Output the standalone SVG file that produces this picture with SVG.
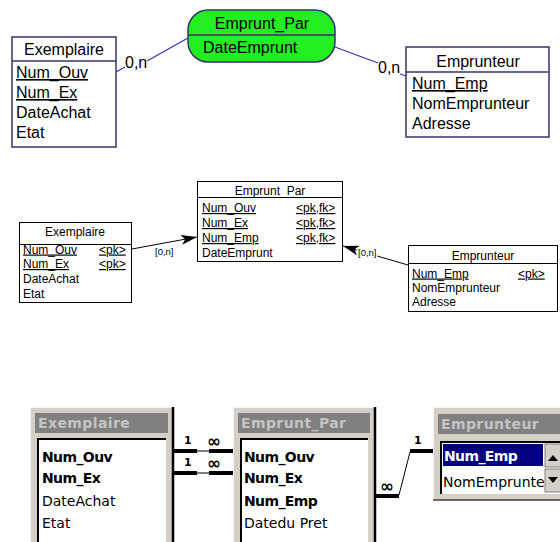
<svg xmlns="http://www.w3.org/2000/svg" width="560" height="542" viewBox="0 0 560 542">
<defs>
<style>
.mcd{font-family:"Liberation Sans",Arial,sans-serif;font-size:16px;fill:#000}
.ent{fill:#fff;stroke:#33336b;stroke-width:1.5}
.mcdl{stroke:#3333aa;stroke-width:1.2;fill:none}
.pdm{font-family:"Liberation Sans",Arial,sans-serif;font-size:12px;fill:#000}
.tbl{fill:#fff;stroke:#000;stroke-width:1}
.card{font-family:"Liberation Sans",Arial,sans-serif;font-size:9.5px;fill:#000}
.u{text-decoration:underline}
.acc{font-family:"DejaVu Sans",Tahoma,sans-serif;font-size:14px;fill:#000}
.accb{font-family:"DejaVu Sans",Tahoma,sans-serif;font-size:14px;font-weight:bold;fill:#000;letter-spacing:-0.6px}
.acct{font-family:"DejaVu Sans",Tahoma,sans-serif;font-size:14px;font-weight:bold;fill:#c4c4c4;letter-spacing:0.4px}
.frame{fill:#d4d0c8}
.tbar{fill:#808080}
.rel{font-family:"DejaVu Sans",sans-serif;font-weight:bold;fill:#000}
</style>
<marker id="arr" viewBox="0 0 16 10" refX="16" refY="5" markerWidth="16" markerHeight="10" markerUnits="userSpaceOnUse" orient="auto">
<path d="M0,0 L16,5 L0,10 L4,5 Z" fill="#000"/>
</marker>
</defs>

<!-- ===== Top: MCD ===== -->
<g id="connectors-mcd">
<polyline class="mcdl" points="116,72 125,67"/>
<polyline class="mcdl" points="147,61 188,38"/>
<polyline class="mcdl" points="335,47 378,63"/>
<polyline class="mcdl" points="400,74 406,76"/>
<text class="mcd" x="125" y="68">0,n</text>
<text class="mcd" x="378" y="73">0,n</text>
</g>

<g id="mcd-exemplaire">
<rect class="ent" x="12" y="37" width="104" height="110"/>
<line x1="12" y1="61" x2="116" y2="61" stroke="#33336b" stroke-width="1.5"/>
<text class="mcd" x="64" y="55" text-anchor="middle">Exemplaire</text>
<text class="mcd u" x="16" y="78">Num_Ouv</text>
<text class="mcd u" x="16" y="98">Num_Ex</text>
<text class="mcd" x="16" y="118">DateAchat</text>
<text class="mcd" x="16" y="138">Etat</text>
</g>

<g id="mcd-emprunt-par">
<rect x="188" y="10" width="147" height="52" rx="20" ry="20" fill="#22ee22" stroke="#33336b" stroke-width="1.5"/>
<line x1="188" y1="35" x2="335" y2="35" stroke="#33336b" stroke-width="1.5"/>
<text class="mcd" x="262" y="29" text-anchor="middle">Emprunt_Par</text>
<text class="mcd" x="203" y="53">DateEmprunt</text>
</g>

<g id="mcd-emprunteur">
<rect class="ent" x="406" y="47" width="143" height="90"/>
<line x1="406" y1="72" x2="549" y2="72" stroke="#33336b" stroke-width="1.5"/>
<text class="mcd" x="478" y="67" text-anchor="middle">Emprunteur</text>
<text class="mcd u" x="412" y="89">Num_Emp</text>
<text class="mcd" x="412" y="109">NomEmprunteur</text>
<text class="mcd" x="412" y="129">Adresse</text>
</g>

<!-- ===== Middle: PDM ===== -->
<g id="connectors-pdm">
<line x1="132" y1="249" x2="197" y2="237" stroke="#000" stroke-width="1" marker-end="url(#arr)"/>
<text class="card" x="155" y="255">[0,n]</text>
<line x1="408" y1="265" x2="343" y2="246" stroke="#000" stroke-width="1" marker-end="url(#arr)"/>
<text class="card" x="358" y="256" stroke="#fff" stroke-width="3" paint-order="stroke">[0,n]</text>
</g>

<g id="pdm-exemplaire">
<rect class="tbl" x="19.5" y="222.5" width="112" height="80"/>
<line x1="19.5" y1="244.5" x2="131.5" y2="244.5" stroke="#000"/>
<text class="pdm" x="75" y="235.5" text-anchor="middle">Exemplaire</text>
<text class="pdm u" x="23" y="253.5">Num_Ouv</text>
<text class="pdm u" x="99" y="253.5">&lt;pk&gt;</text>
<text class="pdm u" x="23" y="268">Num_Ex</text>
<text class="pdm u" x="99" y="268">&lt;pk&gt;</text>
<text class="pdm" x="23" y="282.5">DateAchat</text>
<text class="pdm" x="23" y="297.5">Etat</text>
</g>

<g id="pdm-emprunt-par">
<rect class="tbl" x="197.5" y="181.5" width="145" height="80"/>
<line x1="197.5" y1="197.5" x2="342.5" y2="197.5" stroke="#000"/>
<text class="pdm" x="270" y="194.5" text-anchor="middle">Emprunt_Par</text>
<text class="pdm u" x="202" y="212">Num_Ouv</text>
<text class="pdm u" x="296" y="212">&lt;pk,fk&gt;</text>
<text class="pdm u" x="202" y="227">Num_Ex</text>
<text class="pdm u" x="296" y="227">&lt;pk,fk&gt;</text>
<text class="pdm u" x="202" y="242">Num_Emp</text>
<text class="pdm u" x="296" y="242">&lt;pk,fk&gt;</text>
<text class="pdm" x="202" y="256.5">DateEmprunt</text>
</g>

<g id="pdm-emprunteur">
<rect class="tbl" x="408.5" y="245.5" width="149" height="66"/>
<line x1="408.5" y1="263.5" x2="557.5" y2="263.5" stroke="#000"/>
<text class="pdm" x="483" y="259.5" text-anchor="middle">Emprunteur</text>
<text class="pdm u" x="412" y="277.5">Num_Emp</text>
<text class="pdm u" x="518" y="277.5">&lt;pk&gt;</text>
<text class="pdm" x="412" y="291.5">NomEmprunteur</text>
<text class="pdm" x="412" y="306">Adresse</text>
</g>

<!-- ===== Bottom: Access relationships ===== -->
<g id="connectors-access">
<line x1="173" y1="451" x2="197" y2="451" stroke="#000" stroke-width="4"/>
<line x1="197" y1="451" x2="209" y2="451" stroke="#000" stroke-width="1"/>
<line x1="209" y1="451" x2="233" y2="451" stroke="#000" stroke-width="4"/>
<line x1="173" y1="473" x2="197" y2="473" stroke="#000" stroke-width="4"/>
<line x1="197" y1="473" x2="209" y2="473" stroke="#000" stroke-width="1"/>
<line x1="209" y1="473" x2="233" y2="473" stroke="#000" stroke-width="4"/>
<text class="rel" x="184" y="444" font-size="11">1</text>
<text class="rel" x="207" y="447" font-size="17">∞</text>
<text class="rel" x="184" y="466" font-size="11">1</text>
<text class="rel" x="207" y="469" font-size="17">∞</text>
<line x1="375" y1="496" x2="399" y2="496" stroke="#000" stroke-width="4"/>
<line x1="399" y1="495" x2="410" y2="452" stroke="#000" stroke-width="1"/>
<line x1="410" y1="451" x2="433" y2="451" stroke="#000" stroke-width="4"/>
<text class="rel" x="380" y="492" font-size="17">∞</text>
<text class="rel" x="414" y="444" font-size="11">1</text>
</g>

<g id="acc-exemplaire">
<rect class="frame" x="30" y="407" width="144" height="140"/>
<line x1="30.5" y1="407" x2="30.5" y2="542" stroke="#f4f4f4"/>
<line x1="30" y1="407.5" x2="174" y2="407.5" stroke="#f4f4f4"/>
<line x1="173" y1="407" x2="173" y2="542" stroke="#000" stroke-width="2.5"/>
<rect class="tbar" x="35" y="413" width="133" height="20"/>
<text class="acct" x="38" y="428">Exemplaire</text>
<rect x="37" y="438" width="129" height="110" fill="#fff"/>
<path d="M38,548 V439 H166" fill="none" stroke="#000" stroke-width="2"/>
<text class="accb" x="42" y="462">Num_Ouv</text>
<text class="accb" x="42" y="483">Num_Ex</text>
<text class="acc" x="42" y="506">DateAchat</text>
<text class="acc" x="42" y="528">Etat</text>
</g>

<g id="acc-emprunt-par">
<rect class="frame" x="233" y="407" width="143" height="140"/>
<line x1="233.5" y1="407" x2="233.5" y2="542" stroke="#f4f4f4"/>
<line x1="233" y1="407.5" x2="376" y2="407.5" stroke="#f4f4f4"/>
<line x1="375" y1="407" x2="375" y2="542" stroke="#000" stroke-width="2.5"/>
<rect class="tbar" x="238" y="413" width="132" height="20"/>
<text class="acct" x="241" y="428">Emprunt_Par</text>
<rect x="240" y="438" width="128" height="110" fill="#fff"/>
<path d="M241,548 V439 H368" fill="none" stroke="#000" stroke-width="2"/>
<text class="accb" x="244" y="462">Num_Ouv</text>
<text class="accb" x="244" y="483">Num_Ex</text>
<text class="accb" x="244" y="506">Num_Emp</text>
<text class="acc" x="244" y="528">Datedu Pret</text>
</g>

<g id="acc-emprunteur">
<rect class="frame" x="433" y="407" width="130" height="93"/>
<line x1="433.5" y1="407" x2="433.5" y2="500" stroke="#f4f4f4"/>
<line x1="433" y1="407.5" x2="560" y2="407.5" stroke="#f4f4f4"/>
<line x1="433" y1="500" x2="560" y2="500" stroke="#404040" stroke-width="1.5"/>
<rect class="tbar" x="438" y="414" width="125" height="20"/>
<text class="acct" x="441" y="429">Emprunteur</text>
<rect x="440" y="441" width="122" height="53" fill="#fff"/>
<path d="M441,494 V442 H562" fill="none" stroke="#000" stroke-width="2"/>
<rect x="443" y="444" width="100" height="22" fill="#000080"/>
<text class="accb" x="444" y="461" fill="#fff" style="fill:#fff">Num_Emp</text>
<text class="acc" x="443" y="487">NomEmprunte</text>
<rect x="545" y="444" width="16" height="23" fill="#d4d0c8" stroke="#808080"/>
<rect x="545" y="469" width="16" height="23" fill="#d4d0c8" stroke="#808080"/>
<path d="M548,461 L553,455 L558,461 Z" fill="#000"/>
<path d="M548,477 L553,483 L558,477 Z" fill="#000"/>
</g>
</svg>
